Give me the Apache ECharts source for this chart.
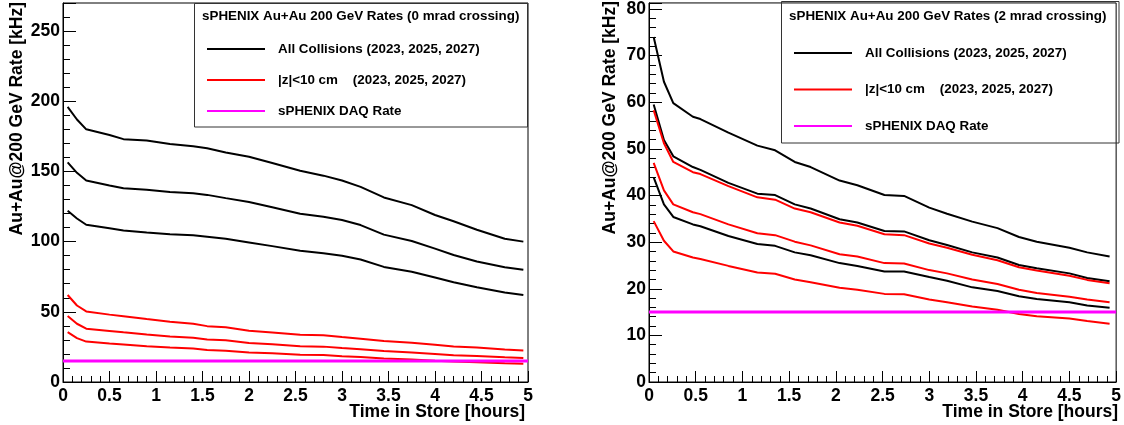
<!DOCTYPE html>
<html>
<head>
<meta charset="utf-8">
<script src="https://cdn.jsdelivr.net/npm/echarts@6/dist/echarts.min.js"></script>
<style>html,body{margin:0;padding:0;background:#fff}#c{width:1124px;height:425px}</style>
</head>
<body>
<div id="c"></div>
<script>
// ---- Data: 0 mrad crossing (left panel) ----
const timeL = [0.05,0.15,0.25,0.5,0.65,0.9,1.15,1.4,1.55,1.75,2.0,2.25,2.55,2.8,3.0,3.2,3.45,3.75,4.0,4.2,4.45,4.75,4.95];
const all2027_0 = [196,187,180,176,173,172,169.5,168,166.5,163.5,160.5,156,150.5,147,143.5,139,131.5,126,119,114.5,108.5,102,100];
const all2025_0 = [156.5,149,143.5,140,138,137,135.4,134.5,133.3,131,128.2,124.5,119.8,117.8,115.4,111.8,105,100.5,95,90.5,85.8,81.7,80];
const all2023_0 = [122,116.5,112,109.5,108,106.5,105.3,104.6,103.5,102,99.4,96.8,93.5,91.8,90,87.3,82,78.5,74.5,71,67.5,63.8,62];
const z2027_0 = [62,54.5,50.3,48,46.8,44.8,43,41.5,39.8,39,36.5,35.3,33.6,33.3,32,30.8,29.2,28,26.5,25.3,24.5,23.2,22.5];
const z2025_0 = [47,41.5,38,36.4,35.4,33.8,32.5,31.6,30.3,29.7,27.8,26.9,25.5,25.2,24.2,23.4,22,21.1,20,19.1,18.5,17.6,17.1];
const z2023_0 = [35.5,31.3,28.8,27.5,26.8,25.5,24.6,23.9,22.8,22.3,21.1,20.5,19.4,19.2,18.4,17.8,16.7,16,15.2,14.6,14.1,13.4,13];

// ---- Data: 2 mrad crossing (right panel) ----
const timeR = [0.05,0.16,0.26,0.47,0.55,0.85,1.16,1.35,1.56,1.73,2.04,2.23,2.52,2.73,3.0,3.19,3.46,3.73,3.96,4.15,4.5,4.69,4.93];
const all2027_2 = [74,64.4,59.8,56.9,56.4,53.5,50.7,49.7,47.2,46.1,43.2,42.2,40.1,39.9,37.4,36.1,34.4,33,31.1,30.1,28.8,27.8,26.9];
const all2025_2 = [59.5,51.9,48.4,46.1,45.5,42.7,40.4,40.1,38.1,37.2,34.9,34.2,32.4,32.3,30.4,29.4,27.8,26.7,25.1,24.4,23.3,22.3,21.6];
const all2023_2 = [43.9,38.1,35.4,33.8,33.4,31.3,29.6,29.2,27.8,27.2,25.5,24.9,23.7,23.7,22.5,21.7,20.3,19.5,18.4,17.8,17.1,16.4,15.9];
const z2027_2 = [58.3,51.2,47.2,45,44.6,42,39.6,39.1,37.2,36.4,34.2,33.5,31.7,31.5,29.7,28.8,27.3,26.1,24.6,23.9,22.8,21.9,21.2];
const z2025_2 = [47,41.1,38.1,36.4,36,33.8,31.9,31.5,30.1,29.3,27.4,26.9,25.5,25.4,24,23.3,22,21,19.8,19.1,18.3,17.7,17.1];
const z2023_2 = [34.5,30.3,28,26.7,26.4,24.9,23.5,23.2,22,21.4,20.2,19.8,18.9,18.8,17.7,17.1,16.2,15.5,14.6,14.1,13.6,13.1,12.5];

// DAQ rate (kHz) across the full store
const daqTime = [0,5];
const daqRate = [15,15];

// Labels
const nameAll = 'All Collisions (2023, 2025, 2027)';
const nameZ = '|z|<10 cm    (2023, 2025, 2027)';
const nameDAQ = 'sPHENIX DAQ Rate';
const titleL = 'sPHENIX Au+Au 200 GeV Rates (0 mrad crossing)';
const titleR = 'sPHENIX Au+Au 200 GeV Rates (2 mrad crossing)';
const xTitle = 'Time in Store [hours]';
const yTitle = 'Au+Au@200 GeV Rate [kHz]';

const FONT = '"Liberation Sans", Arial, Helvetica, sans-serif';
const zip = (xs, ys) => xs.map((x, i) => [x, ys[i]]);

function xAxisCfg(gi) {
  return {
    type: 'value', gridIndex: gi, min: 0, max: 5, interval: 0.5,
    axisLine: { show: true, onZero: false, lineStyle: { color: '#000', width: 1 } },
    axisTick: { show: true, inside: true, length: 11, lineStyle: { color: '#000' } },
    minorTick: { show: true, splitNumber: 5, length: 6, lineStyle: { color: '#000' } },
    splitLine: { show: false },
    axisLabel: { color: '#000', fontFamily: FONT, fontWeight: 'bold', fontSize: 17.5, margin: 5,
      showMinLabel: true, showMaxLabel: true }
  };
}
function yAxisCfg(gi, max, interval) {
  return {
    type: 'value', gridIndex: gi, min: 0, max: max, interval: interval,
    axisLine: { show: true, onZero: false, lineStyle: { color: '#000', width: 1 } },
    axisTick: { show: true, inside: true, length: 13, lineStyle: { color: '#000' } },
    minorTick: { show: true, splitNumber: 5, length: 7, lineStyle: { color: '#000' } },
    splitLine: { show: false },
    axisLabel: { color: '#000', fontFamily: FONT, fontWeight: 'bold', fontSize: 17.5, margin: 3,
      showMaxLabel: false }
  };
}
function line(name, xi, data, color, width, z) {
  return { type: 'line', name: name, xAxisIndex: xi, yAxisIndex: xi, data: data,
    symbol: 'none', smooth: false, silent: true, z: z || 2,
    lineStyle: { color: color, width: width }, itemStyle: { color: color } };
}
function legendCfg(left, top, gap) {
  return {
    orient: 'vertical', left: left, top: top, padding: 0, itemGap: gap,
    itemWidth: 58, itemHeight: 2, selectedMode: false, icon: 'rect',
    data: [
      { name: nameAll, icon: 'rect', itemStyle: { color: BLACK } },
      { name: nameZ, icon: 'rect', itemStyle: { color: RED } },
      { name: nameDAQ, icon: 'rect', itemStyle: { color: MAG } }
    ],
    textStyle: { color: '#000', fontFamily: FONT, fontWeight: 'bold', fontSize: 13.4,
      lineHeight: 14, padding: [0, 0, 0, 8] }
  };
}

const BLACK = '#000000', RED = '#ff0000', MAG = '#ff00ff';

const option = {
  animation: false,
  backgroundColor: '#fff',
  grid: [
    { left: 63, right: 596, top: 3, bottom: 43, show: true, borderColor: '#000', borderWidth: 1, backgroundColor: 'transparent' },
    { left: 649, right: 5, top: 1, bottom: 43, show: true, borderColor: '#000', borderWidth: 1, backgroundColor: 'transparent' }
  ],
  xAxis: [xAxisCfg(0), xAxisCfg(1)],
  yAxis: [yAxisCfg(0, 270, 50), yAxisCfg(1, 81.3, 10)],
  title: [
    { text: titleL, left: 202, top: 10, padding: 0,
      textStyle: { color: '#000', fontFamily: FONT, fontWeight: 'bold', fontSize: 13.4 } },
    { text: titleR, left: 789, top: 10, padding: 0,
      textStyle: { color: '#000', fontFamily: FONT, fontWeight: 'bold', fontSize: 13.4 } }
  ],
  legend: [legendCfg(207, 42, 17), legendCfg(794, 46, 22.5)],
  graphic: [
    { type: 'rect', shape: { x: 194.5, y: 3.5, width: 333, height: 123.5 },
      style: { fill: 'none', stroke: '#333', lineWidth: 1 }, z: 5, silent: true },
    { type: 'rect', shape: { x: 781.5, y: 1.5, width: 337.5, height: 141.5 },
      style: { fill: 'none', stroke: '#333', lineWidth: 1 }, z: 5, silent: true },
    { type: 'text', x: 17, y: 2, rotation: Math.PI / 2, silent: true,
      style: { text: yTitle, fill: '#000', font: 'bold 17.5px ' + FONT, textAlign: 'right', textVerticalAlign: 'middle' } },
    { type: 'text', x: 610, y: 1, rotation: Math.PI / 2, silent: true,
      style: { text: yTitle, fill: '#000', font: 'bold 17.5px ' + FONT, textAlign: 'right', textVerticalAlign: 'middle' } },
    { type: 'text', x: 525, y: 412, silent: true,
      style: { text: xTitle, fill: '#000', font: 'bold 17.5px ' + FONT, textAlign: 'right', textVerticalAlign: 'middle' } },
    { type: 'text', x: 1118, y: 412, silent: true,
      style: { text: xTitle, fill: '#000', font: 'bold 17.5px ' + FONT, textAlign: 'right', textVerticalAlign: 'middle' } }
  ],
  series: [
    line(nameAll, 0, zip(timeL, all2027_0), BLACK, 2),
    line(nameAll, 0, zip(timeL, all2025_0), BLACK, 2),
    line(nameAll, 0, zip(timeL, all2023_0), BLACK, 2),
    line(nameZ, 0, zip(timeL, z2027_0), RED, 2),
    line(nameZ, 0, zip(timeL, z2025_0), RED, 2),
    line(nameZ, 0, zip(timeL, z2023_0), RED, 2),
    line(nameDAQ, 0, zip(daqTime, daqRate), MAG, 3, 3),
    line(nameAll, 1, zip(timeR, all2027_2), BLACK, 2),
    line(nameAll, 1, zip(timeR, all2025_2), BLACK, 2),
    line(nameAll, 1, zip(timeR, all2023_2), BLACK, 2),
    line(nameZ, 1, zip(timeR, z2027_2), RED, 2),
    line(nameZ, 1, zip(timeR, z2025_2), RED, 2),
    line(nameZ, 1, zip(timeR, z2023_2), RED, 2),
    line(nameDAQ, 1, zip(daqTime, daqRate), MAG, 3, 3)
  ]
};

const chart = echarts.init(document.getElementById('c'), null, { renderer: 'canvas' });
chart.setOption(option);
</script>
</body>
</html>
